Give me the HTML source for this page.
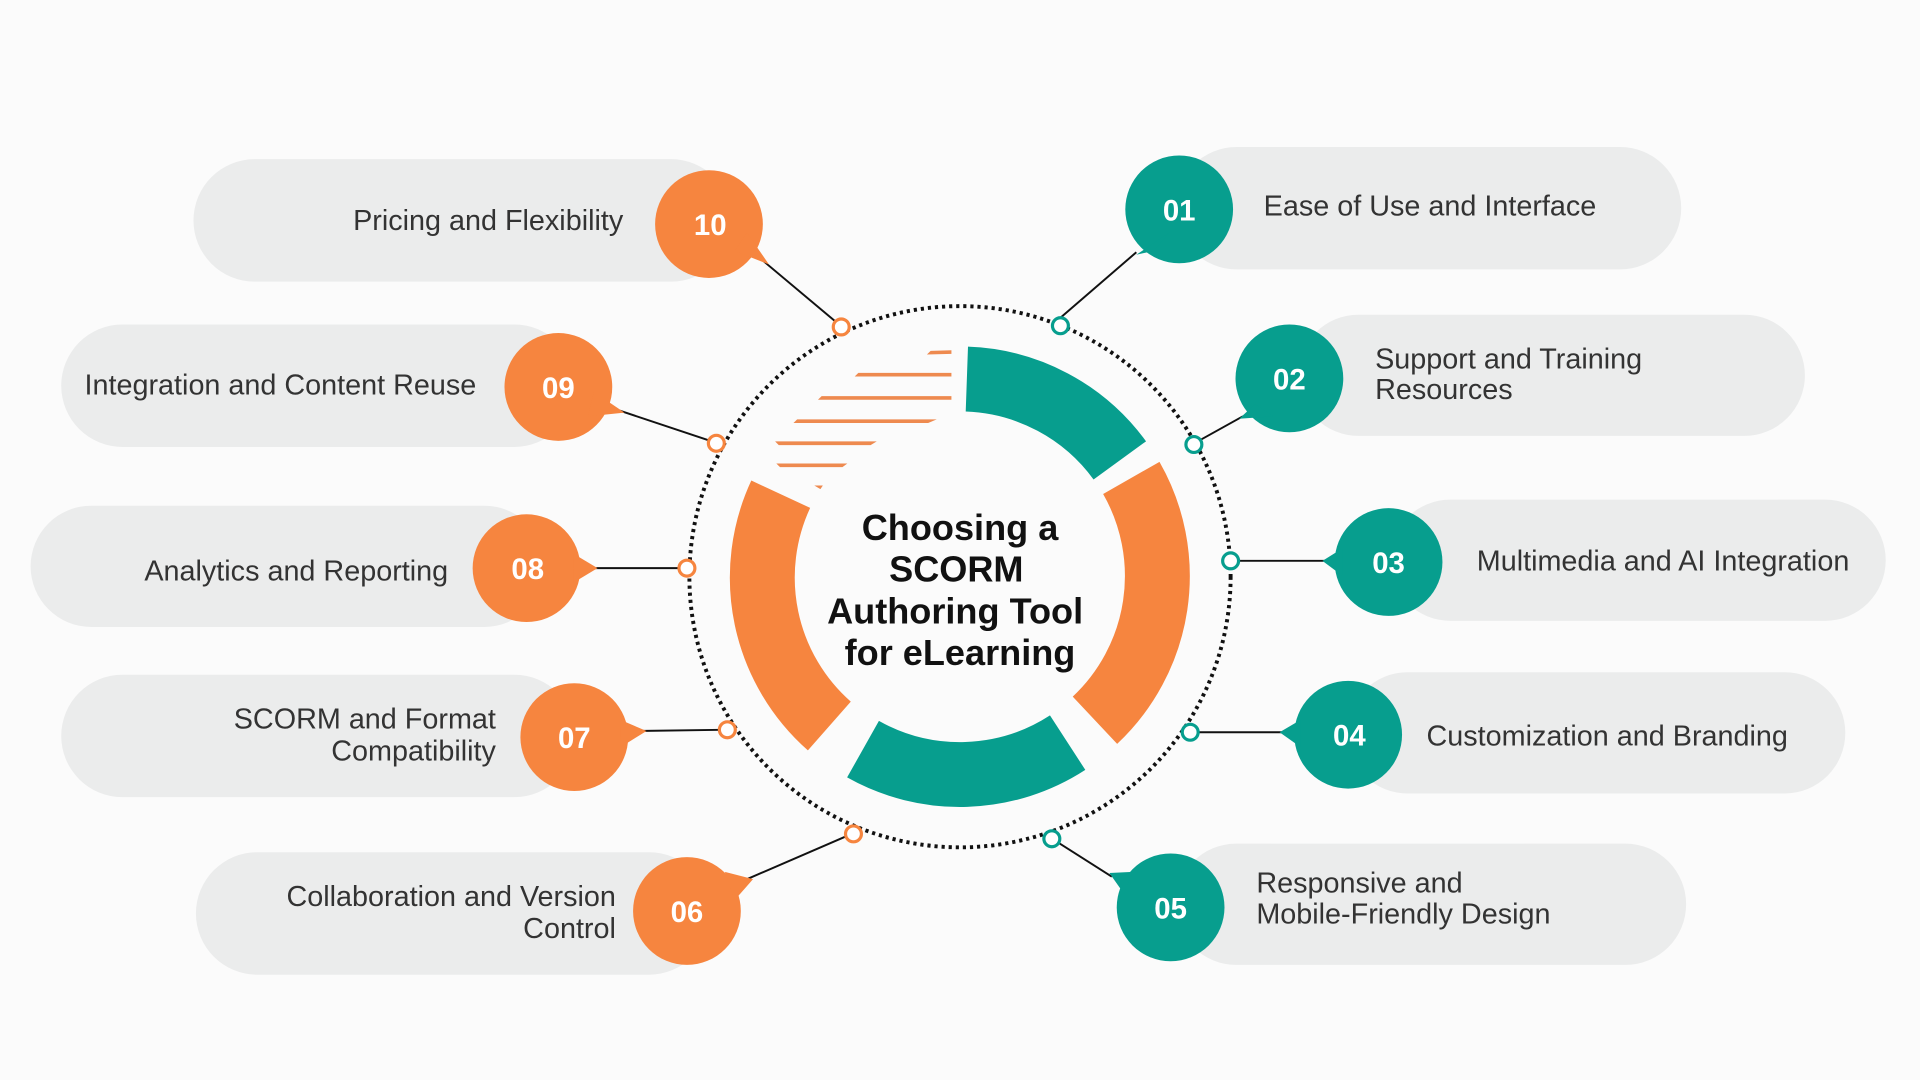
<!DOCTYPE html>
<html><head><meta charset="utf-8"><style>
html,body{margin:0;padding:0;width:1920px;height:1080px;overflow:hidden;background:#fbfbfb}
svg{display:block}
text{font-family:"Liberation Sans",sans-serif}
.t{font-size:23.5px;fill:#333}
.n{font-size:24px;font-weight:bold;fill:#fff}
.c{font-size:29.5px;font-weight:bold;fill:#111}
</style></head><body>
<svg width="1920" height="1080" viewBox="0 0 1568 882" xmlns="http://www.w3.org/2000/svg">
<rect width="1568" height="882" fill="#fbfbfb"/>
<g fill="#ebecec">
<rect x="158" y="130" width="440" height="100" rx="50"/>
<rect x="50" y="265" width="420" height="100" rx="50"/>
<rect x="25" y="413" width="420" height="99" rx="49.5"/>
<rect x="50" y="551" width="420" height="100" rx="50"/>
<rect x="160" y="696" width="420" height="100" rx="50"/>
<rect x="960" y="120" width="413" height="100" rx="50"/>
<rect x="1060" y="257" width="414" height="99" rx="49.5"/>
<rect x="1135" y="408" width="405" height="99" rx="49.5"/>
<rect x="1100" y="549" width="407" height="99" rx="49.5"/>
<rect x="960" y="689" width="417" height="99" rx="49.5"/>
</g>
<g stroke="#111" stroke-width="1.6">
<line x1="622" y1="212" x2="684" y2="264"/>
<line x1="505" y1="335" x2="580" y2="360"/>
<line x1="475" y1="464" x2="555" y2="464"/>
<line x1="520" y1="597" x2="589" y2="596"/>
<line x1="610" y1="718" x2="691" y2="683"/>
<line x1="928" y1="206" x2="862" y2="263"/>
<line x1="1015" y1="340" x2="979" y2="360"/>
<line x1="1088" y1="458" x2="1011" y2="458"/>
<line x1="1050" y1="598" x2="978" y2="598"/>
<line x1="908" y1="716" x2="864" y2="688"/>
</g>
<circle cx="784" cy="471" r="221" fill="none" stroke="#111" stroke-width="3.2" stroke-dasharray="2.6 3.2"/>
<g fill="#fff" stroke-width="2.6">
<circle cx="687" cy="267" r="6.5" stroke="#f6853f"/>
<circle cx="585" cy="362" r="6.5" stroke="#f6853f"/>
<circle cx="561" cy="464" r="6.5" stroke="#f6853f"/>
<circle cx="594" cy="596" r="6.5" stroke="#f6853f"/>
<circle cx="697" cy="681" r="6.5" stroke="#f6853f"/>
<circle cx="866" cy="266" r="6.5" stroke="#079e8e"/>
<circle cx="975" cy="363" r="6.5" stroke="#079e8e"/>
<circle cx="1005" cy="458" r="6.5" stroke="#079e8e"/>
<circle cx="972" cy="598" r="6.5" stroke="#079e8e"/>
<circle cx="859" cy="685" r="6.5" stroke="#079e8e"/>
</g>
<g fill="none" stroke-width="53">
<path d="M789.6 309.6 A161.5 161.5 0 0 1 914.5 376.0" stroke="#079e8e"/>
<path d="M923.9 390.3 A161.5 161.5 0 0 1 894.2 588.2" stroke="#f6853f"/>
<path d="M871.9 606.5 A161.5 161.5 0 0 1 704.8 611.8" stroke="#079e8e"/>
<path d="M677.3 592.9 A161.5 161.5 0 0 1 637.6 403.6" stroke="#f6853f"/>
</g>
<g fill="#ee8a4f">
<polygon points="760,286.5 777,286 777,289 757,289.5"/>
<polygon points="701,304.5 777,304.5 777,307.5 698,307.5"/>
<polygon points="671,323.5 777,323.5 777,326.5 668,326.5"/>
<polygon points="651,342.5 765,342.5 758,345.5 648,345.5"/>
<polygon points="633,360.5 716,360.5 711,363.5 636,363.5"/>
<polygon points="634,378.5 692,378.5 688,381.5 637,381.5"/>
<polygon points="665,396.5 672,396.5 670,399.5"/>
</g>
<g class="c" text-anchor="middle">
<text x="784" y="441">Choosing a</text>
<text x="781" y="475">SCORM</text>
<text x="780" y="509">Authoring Tool</text>
<text x="784" y="543">for eLearning</text>
</g>
<g fill="#f6853f">
<circle cx="579" cy="183" r="44"/><polygon points="600,205 628,216 610,190"/>
<circle cx="456" cy="316" r="44"/><polygon points="485,320 510,337 480,340"/>
<circle cx="430" cy="464" r="44"/><polygon points="468,452 488,464 468,476"/>
<circle cx="469" cy="602" r="44"/><polygon points="507,588 528,597 507,610"/>
<circle cx="561" cy="744" r="44"/><polygon points="592,712 615,718 600,735"/>
</g>
<g fill="#079e8e">
<circle cx="963" cy="171" r="44"/><polygon points="942,205 928,208 955,190"/>
<circle cx="1053" cy="309" r="44"/><polygon points="1025,330 1012,342 1040,340"/>
<circle cx="1134" cy="459" r="44"/><polygon points="1096,448 1080,458 1096,470"/>
<circle cx="1101" cy="600" r="44"/><polygon points="1062,588 1045,598 1062,610"/>
<circle cx="956" cy="741" r="44"/><polygon points="925,712 906,713 918,730"/>
</g>
<g class="n" text-anchor="middle">
<text x="580" y="192">10</text>
<text x="456" y="325">09</text>
<text x="431" y="473">08</text>
<text x="469" y="611">07</text>
<text x="561" y="753">06</text>
<text x="963" y="180">01</text>
<text x="1053" y="318">02</text>
<text x="1134" y="468">03</text>
<text x="1102" y="609">04</text>
<text x="956" y="750">05</text>
</g>
<g class="t" text-anchor="end">
<text x="509" y="188">Pricing and Flexibility</text>
<text x="389" y="322">Integration and Content Reuse</text>
<text x="366" y="474">Analytics and Reporting</text>
<text x="405" y="595">SCORM and Format</text>
<text x="405" y="621">Compatibility</text>
<text x="503" y="740">Collaboration and Version</text>
<text x="503" y="766">Control</text>
</g>
<g class="t">
<text x="1032" y="176">Ease of Use and Interface</text>
<text x="1123" y="301">Support and Training</text>
<text x="1123" y="326">Resources</text>
<text x="1206" y="466">Multimedia and AI Integration</text>
<text x="1165" y="609">Customization and Branding</text>
<text x="1026" y="729">Responsive and</text>
<text x="1026" y="754">Mobile-Friendly Design</text>
</g>
</svg>
</body></html>
